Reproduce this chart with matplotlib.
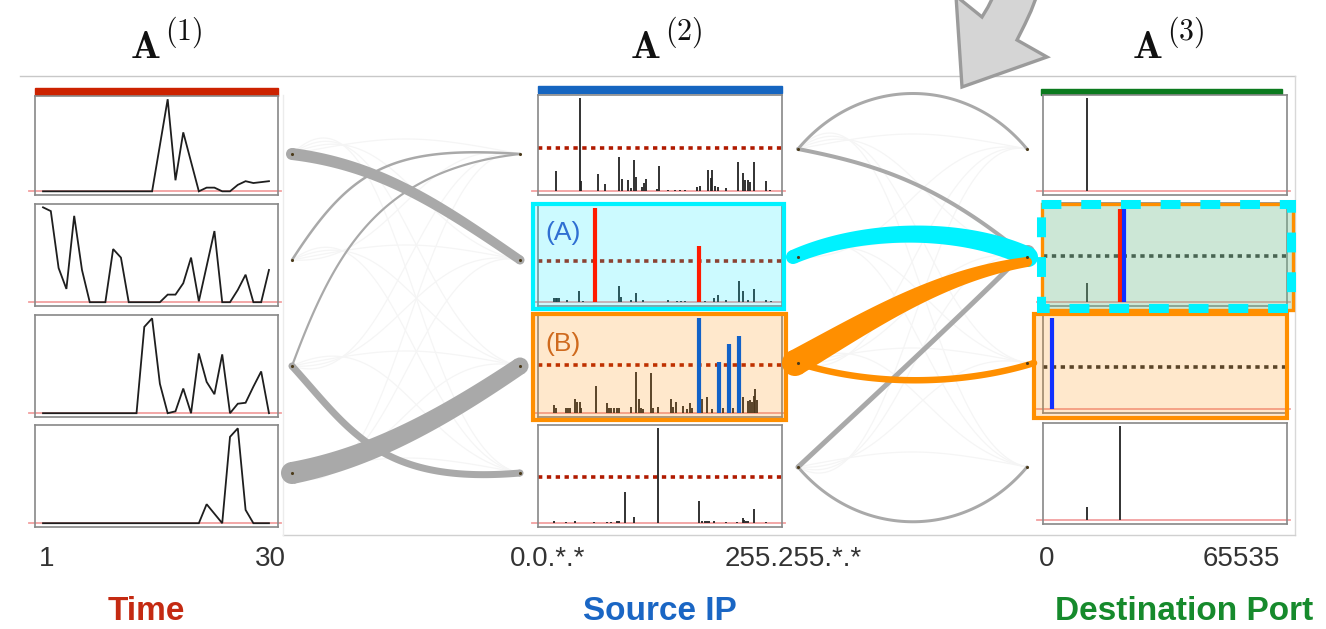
import numpy as np
import matplotlib
matplotlib.use("Agg")
import matplotlib.pyplot as plt
from matplotlib.patches import Rectangle, Circle, Polygon
from matplotlib import font_manager
import matplotlib.transforms as mtrans

plt.rcParams['mathtext.fontset'] = 'cm'
names = {f.name for f in font_manager.fontManager.ttflist}
SANS = 'Liberation Sans' if 'Liberation Sans' in names else 'DejaVu Sans'

# ---------------- data ----------------
time_idx = list(range(1, 31))
time_1 = [0]*15 + [0.5, 1.0, 0.12, 0.64, 0.32, 0, 0.04, 0.04, 0, 0, 0.07, 0.11, 0.09, 0.10, 0.11]
time_2 = [1.0, 0.96, 0.36, 0.14, 0.91, 0.34, 0, 0, 0, 0.56, 0.47, 0, 0, 0, 0, 0,
          0.08, 0.08, 0.20, 0.47, 0.01, 0.38, 0.75, 0, 0, 0.13, 0.29, 0, 0, 0.34]
time_3 = [0]*13 + [0.91, 1.0, 0.31, 0.0, 0.02, 0.26, 0, 0.63, 0.33, 0.20, 0.62, 0, 0.10, 0.11, 0.28, 0.44, 0]
time_4 = [0]*21 + [0.20, 0.10, 0, 0.91, 1.0, 0.14, 0, 0, 0]

ip_pos_1 = [18.5, 43.7, 44.7, 62.2, 69.9, 84.5, 88.0, 93.6, 97.1, 100.3, 102.3, 108.6, 110.7, 112.5, 124.0,
            126.1, 136.2, 143.2, 148.5, 153.7, 166.6, 169.4, 178.1, 180.6, 182.3, 185.1, 188.6, 196.0,
            208.9, 214.1, 216.6, 219.0, 221.1, 225.3, 237.9, 242.8]
ip_val_1 = [0.22, 1.0, 0.11, 0.19, 0.08, 0.37, 0.13, 0.12, 0.03, 0.34, 0.15, 0.05, 0.09, 0.13, 0.02,
            0.27, 0.01, 0.01, 0.01, 0.01, 0.05, 0.06, 0.23, 0.14, 0.23, 0.06, 0.05, 0.04,
            0.32, 0.20, 0.12, 0.12, 0.10, 0.32, 0.11, 0.01]
ip_pos_2 = [16.8, 18.5, 20.3, 22.0, 30.7, 43.0, 47.2, 61.1, 84.5, 86.3, 97.1, 102.3, 109.3, 135.5, 145.7,
            149.5, 153.7, 174.6, 184.4, 188.6, 196.0, 210.3, 214.1, 219.4, 225.3, 237.9, 243.8]
ip_val_2 = [0.05, 0.04, 0.04, 0.04, 0.025, 0.12, 0.01, 0.02, 0.17, 0.06, 0.02, 0.10, 0.02, 0.02, 0.01,
            0.01, 0.01, 0.01, 0.05, 0.08, 0.02, 0.23, 0.12, 0.02, 0.14, 0.025, 0.01]
ip_hl_pos_2 = [59.4, 168.4]
ip_hl_val_2 = [1.0, 0.6]
ip_pos_3 = [16.8, 18.5, 29.7, 31.4, 33.2, 39.1, 41.2, 43.7, 45.4, 60.4, 72.3, 74.4, 76.8, 79.6, 82.1, 84.2,
            97.1, 102.3, 105.8, 107.6, 110.0, 118.1, 120.5, 125.0, 139.0, 140.8, 143.9, 151.2, 155.4,
            158.9, 161.0, 171.2, 176.4, 181.6, 193.2, 204.3, 213.8, 219.0, 221.1, 223.6, 225.3, 227.1, 228.8]
ip_val_3 = [0.09, 0.06, 0.06, 0.06, 0.06, 0.15, 0.12, 0.12, 0.06, 0.29, 0.11, 0.06, 0.06, 0.06, 0.06, 0.06,
            0.07, 0.43, 0.15, 0.05, 0.04, 0.42, 0.06, 0.07, 0.15, 0.07, 0.12, 0.08, 0.04,
            0.11, 0.06, 0.15, 0.17, 0.04, 0.06, 0.05, 0.17, 0.13, 0.14, 0.12, 0.18, 0.26, 0.14]
ip_hl_pos_3 = [168.7, 189.0, 199.5, 209.6]
ip_hl_val_3 = [1.0, 0.54, 0.73, 0.81]
ip_pos_4 = [16.8, 29.7, 39.1, 58.3, 72.3, 76.8, 82.1, 84.5, 91.2, 100.3, 125.7, 168.0, 171.2, 174.6, 177.1,
            178.8, 184.4, 196.0, 207.8, 214.1, 215.5, 217.6, 219.4, 225.3, 238.2]
ip_val_4 = [0.02, 0.01, 0.025, 0.01, 0.01, 0.01, 0.02, 0.025, 0.33, 0.07, 1.0, 0.23, 0.02, 0.025, 0.025,
            0.02, 0.02, 0.01, 0.01, 0.05, 0.035, 0.025, 0.02, 0.15, 0.01]
ip_thresh = [0.47, 0.44, 0.51, 0.49]

port_pos_1 = [11734]
port_val_1 = [1.0]
port_pos_2 = [11734]
port_val_2 = [0.2]
port_hl_pos_2 = [20682, 21756]
port_hl_val_2 = [0.97, 1.0]
port_hl_pos_3 = [2337]
port_hl_val_3 = [1.0]
port_pos_4 = [11734, 20682]
port_val_4 = [0.14, 1.0]
port_thresh = [None, 0.48, 0.47, None]

# connections between components: (from, to, width_start, width_end, color)
links_12 = [(0, 1, 12, 9, 'gray'), (1, 0, 2.5, 2.5, 'gray'), (2, 0, 2.2, 2.2, 'gray'),
            (2, 3, 7, 7, 'gray'), (3, 2, 22, 17, 'gray')]
links_23 = [(0, 0, 3, 3, 'gray'), (0, 1, 4, 4, 'gray'), (1, 1, 14, 20, 'cyan'),
            (2, 1, 26, 10, 'orange'), (2, 2, 6.5, 6.5, 'orange'), (3, 1, 5, 5, 'gray'), (3, 3, 3, 3, 'gray')]

tick_labels = ['1', '30', '0.0.*.*', '255.255.*.*', '0', '65535']
mode_names = ['Time', 'Source IP', 'Destination Port']
mode_colors = ['#c42a12', '#1a66c4', '#168a2c']

# ---------------- layout ----------------
W, H = 1326, 629
fig = plt.figure(figsize=(W / 100, H / 100), dpi=100)

def frame_axes(z=0):
    a = fig.add_axes([0, 0, 1, 1], zorder=z)
    a.set_xlim(0, W)
    a.set_ylim(H, 0)
    a.axis('off')
    a.patch.set_alpha(0)
    return a

def rect_ax(x0, y0, x1, y1):
    return fig.add_axes([x0 / W, 1 - y1 / H, (x1 - x0) / W, (y1 - y0) / H], zorder=1)

ax0 = frame_axes(0)

GRAYC = '#a9a9a9'
CYAN = '#00f2ff'
ORANGE = '#ff8f00'
COLORMAP = {'gray': GRAYC, 'cyan': CYAN, 'orange': ORANGE}

# overall frame
ax0.plot([20, 1295], [76, 76], color='#c8c8c8', lw=1)
ax0.plot([1295, 1295], [76, 535], color='#d8d8d8', lw=1)
ax0.plot([283, 1295], [535, 535], color='#d0d0d0', lw=1)
ax0.plot([283, 283], [95, 535], color='#ececec', lw=1)

# curved block arrow at top
arrow = [(962, 87), (1047, 57), (1017, 40), (1025, 24), (1031, 11), (1036, -2), (1040, -12),
         (996, -12), (993, -3), (988, 7), (982, 17), (956, -4)]
ax0.add_patch(Polygon(arrow, closed=True, facecolor='#d5d5d5', edgecolor='#9b9b9b', lw=2.4,
                      joinstyle='miter', zorder=3))

# titles: bold A with a large superscript
for cx, k in [(168, 1), (668, 2), (1170, 3)]:
    ax0.text(cx - 7, 58, r'$\mathbf{A}$', fontsize=28.5, ha='right', va='baseline', color='#111111')
    ax0.text(cx - 3, 40, r'$(%d)$' % k, fontsize=21.5, ha='left', va='baseline', color='#111111')

# tick labels and mode names
tick_x = [47, 270, 548, 793, 1047, 1241]
for x, s in zip(tick_x, tick_labels):
    ax0.text(x, 566, s, fontsize=20, ha='center', va='baseline', color='#333333', family=[SANS, 'DejaVu Sans'])
for x, s, c in zip([146, 660, 1184], mode_names, mode_colors):
    ax0.text(x, 620, s, fontsize=24, ha='center', va='baseline', color=c, fontweight='bold',
             family=[SANS, 'DejaVu Sans'])

# colored header bars
ax0.add_patch(Rectangle((35, 88), 243, 8, color='#cc2200', zorder=2))
ax0.add_patch(Rectangle((538, 86), 244, 7, color='#1565c0', zorder=2))
ax0.add_patch(Rectangle((1041, 89), 241, 6, color='#0b7a1e', zorder=2))

YL = (-0.04, 1.035)

def style_panel(a):
    a.set_ylim(*YL)
    a.set_xticks([])
    a.set_yticks([])
    for s in a.spines.values():
        s.set_color('#888888')
        s.set_linewidth(1.2)
    tr = mtrans.blended_transform_factory(a.transAxes, a.transData)
    a.plot([-0.025, 1.012], [0, 0], transform=tr, color='#f2a0a0', lw=1.3, clip_on=False, zorder=1)

# overlay axes (created now, filled later) so highlight bars can be drawn above the translucent boxes
top = None

# column 1: time
col1_rows = [(96, 195), (204, 306), (315, 417), (425, 527)]
for (y0, y1), series in zip(col1_rows, [time_1, time_2, time_3, time_4]):
    a = rect_ax(35, y0, 278, y1)
    style_panel(a)
    a.set_xlim(-0.03, 31.16)
    a.plot(time_idx, series, color='#1e1e1e', lw=1.3, zorder=3, solid_joinstyle='miter')

highlights = []  # (axes, positions, values, colors)

# column 2: source IP
col2_rows = [(95, 195), (205, 306), (315, 417), (425, 527)]
col2_data = [(ip_pos_1, ip_val_1, [], [], None), (ip_pos_2, ip_val_2, ip_hl_pos_2, ip_hl_val_2, '#ff1a00'),
             (ip_pos_3, ip_val_3, ip_hl_pos_3, ip_hl_val_3, '#1262c8'), (ip_pos_4, ip_val_4, [], [], None)]
for (y0, y1), (p, v, hp, hv, hc), th in zip(col2_rows, col2_data, ip_thresh):
    a = rect_ax(538, y0, 782, y1)
    style_panel(a)
    a.set_xlim(0, 255)
    a.vlines(p, 0, v, color='#222222', lw=1.3, zorder=3)
    if hp:
        highlights.append((a, hp, hv, [hc] * len(hp)))
    a.axhline(th, color='#b01a00', lw=2.6, ls=(0, (1.2, 1.25)), zorder=2)

# column 3: destination port
col3_rows = [(95, 195), (203, 306), (315, 413), (423, 524)]
col3_data = [(port_pos_1, port_val_1, [], [], None),
             (port_pos_2, port_val_2, port_hl_pos_2, port_hl_val_2, ['#ff2200', '#1030ff']),
             ([], [], port_hl_pos_3, port_hl_val_3, ['#1030ff']),
             (port_pos_4, port_val_4, [], [], None)]
for (y0, y1), (p, v, hp, hv, hc), th in zip(col3_rows, col3_data, port_thresh):
    a = rect_ax(1043, y0, 1287, y1)
    style_panel(a)
    a.set_xlim(0, 65535)
    if p:
        a.vlines(p, 0, v, color='#333333', lw=1.4, zorder=3)
    if hp:
        highlights.append((a, hp, hv, hc))
    if th is not None:
        a.axhline(th, color='#333333', lw=2.6, ls=(0, (1.2, 1.25)), zorder=2)

# ---------------- overlay: links, highlight boxes ----------------
top = frame_axes(5)

def bez(p0, p1, p2, p3, n=120):
    t = np.linspace(0, 1, n)[:, None]
    p0, p1, p2, p3 = map(np.array, (p0, p1, p2, p3))
    return (1 - t) ** 3 * p0 + 3 * (1 - t) ** 2 * t * p1 + 3 * (1 - t) * t ** 2 * p2 + t ** 3 * p3

def band(pts, w0, w1, color, z):
    d = np.gradient(pts, axis=0)
    nrm = np.stack([-d[:, 1], d[:, 0]], 1)
    nrm /= np.linalg.norm(nrm, axis=1)[:, None]
    w = np.linspace(w0, w1, len(pts))[:, None] / 2
    poly = np.vstack([pts + nrm * w, (pts - nrm * w)[::-1]])
    top.fill(poly[:, 0], poly[:, 1], color=color, lw=0, zorder=z)
    top.add_patch(Circle(pts[0], w0 / 2, color=color, lw=0, zorder=z))
    top.add_patch(Circle(pts[-1], w1 / 2, color=color, lw=0, zorder=z))

# faint background links
def faint(xl, xr, ys):
    for i, ya in enumerate(ys):
        for j, yb in enumerate(ys):
            dx = xr - xl
            pts = bez((xl, ya), (xl + dx * 0.45, ya + (ya - yb) * 0.25 - 20), (xr - dx * 0.45, yb - 20), (xr, yb))
            top.plot(pts[:, 0], pts[:, 1], color='#f5f5f5', lw=0.9, zorder=1)

yl12 = [154, 260, 366, 473]
yl23 = [149, 257, 363, 467]
faint(292, 520, yl12)
faint(798, 1027, yl23)

ctrl12 = {(0, 1): ((380, 165), (440, 205)), (1, 0): ((350, 170), (390, 145)),
          (2, 0): ((335, 250), (380, 170)), (2, 3): ((350, 430), (380, 485)),
          (3, 2): ((370, 458), (440, 420))}
for (i, j, w0, w1, c) in links_12:
    c1, c2 = ctrl12[(i, j)]
    band(bez((292, yl12[i]), c1, c2, (520, yl12[j])), w0, w1, COLORMAP[c], 3 if c == 'gray' else 4)

ctrl23 = {(0, 0): ((860, 75), (966, 75)), (0, 1): ((880, 165), (940, 185)),
          (1, 1): ((860, 228), (960, 225)), (2, 1): ((870, 320), (940, 275)),
          (2, 2): ((870, 386), (960, 386)), (3, 1): ((872, 398), (946, 330)),
          (3, 3): ((860, 540), (966, 540))}
ends23 = {(1, 1): (793, 1028), (2, 1): (795, 1027), (2, 2): (798, 1034), (3, 1): (798, 1020)}
top.add_patch(Circle((1028, 252), 7, color=GRAYC, lw=0, zorder=3))
for (i, j, w0, w1, c) in links_23:
    c1, c2 = ctrl23[(i, j)]
    xa, xb = ends23.get((i, j), (798, 1027))
    yb = yl23[j] + (5 if (i, j) == (2, 1) else 0)
    band(bez((xa, yl23[i]), c1, c2, (xb, yb)), w0, w1, COLORMAP[c], 3 if c == 'gray' else 4)

# node dots
for xx, ys in [(292, yl12), (520, yl12), (798, yl23), (1027, yl23)]:
    top.scatter([xx] * 4, ys, s=5, color='#4b3b1b', zorder=6, lw=0)

# highlight boxes (translucent overlays + borders)
def hbox(x0, y0, x1, y1, fc, ec, lw, ls='-', fill=True, z=5):
    if fill:
        top.add_patch(Rectangle((x0, y0), x1 - x0, y1 - y0, facecolor=fc, alpha=0.2, lw=0, zorder=z))
    if ec:
        top.add_patch(Rectangle((x0, y0), x1 - x0, y1 - y0, facecolor='none', edgecolor=ec, lw=lw, ls=ls,
                                zorder=z + 1))

hbox(533, 204, 784, 309, '#00e6ff', CYAN, 3.0)
hbox(533, 314, 786, 420, ORANGE, ORANGE, 3.0)
hbox(1042, 204, 1293, 310, ORANGE, ORANGE, 2.4)
hbox(1042, 204, 1293, 310, '#00e6ff', None, 0)
hbox(1034, 314, 1287, 418, ORANGE, ORANGE, 3.0)

# highlighted bars drawn above the translucent boxes, in their panel's data coordinates
for a, hp, hv, hc in highlights:
    for xx, vv, cc in zip(hp, hv, hc):
        top.vlines([xx], 0, [vv], color=cc, lw=3.0, zorder=7, transform=a.transData)

hbox(1041, 203.5, 1291, 308, None, CYAN, 6.5, ls=(0, (2.2, 2.2)), fill=False, z=8)

top.text(545, 233, '(A)', fontsize=19, color='#2f6fd2', va='center', ha='left', family=[SANS, 'DejaVu Sans'], zorder=9)
top.text(545, 344, '(B)', fontsize=19, color='#cf6a1e', va='center', ha='left', family=[SANS, 'DejaVu Sans'], zorder=9)

fig.savefig('out.png', dpi=100)
